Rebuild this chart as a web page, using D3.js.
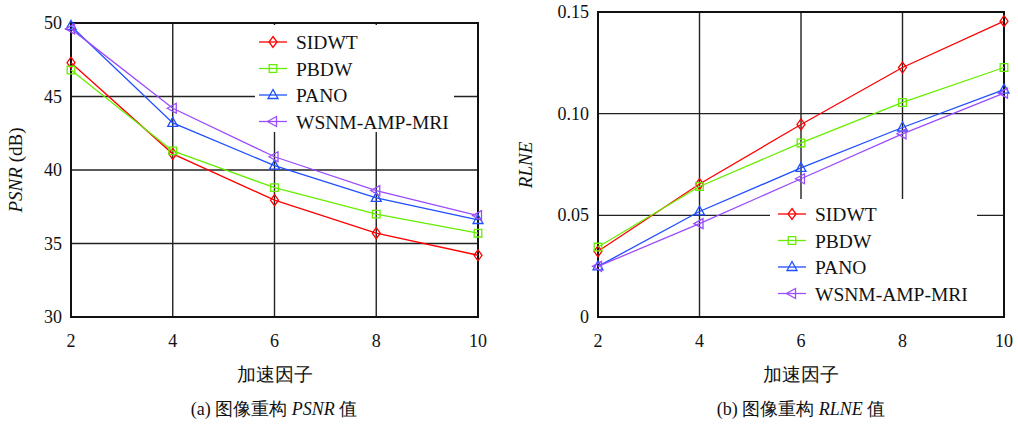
<html>
<head>
  <meta charset="UTF-8">
  <title>PSNR / RLNE</title>
  <script src="https://d3js.org/d3.v7.min.js"></script>
<style>
body { margin: 0; background: #fff; }
.grid line { stroke: #222; stroke-width: 1.4; }
.frame { fill: none; stroke: #111; stroke-width: 2; }
</style>
</head>
<body>
<script>

var width = 1018,
    height = 426;

var FONT = '"Liberation Serif"';

// data
var factors = [2, 4, 6, 8, 10];
var methods = ['SIDWT', 'PBDW', 'PANO', 'WSNM-AMP-MRI'];
var colors = ['#ff0000', '#66ee00', '#1f4fff', '#9a4cff'];
var shapes = ['diamond', 'square', 'triUp', 'triLeft'];

var psnrSIDWT = [47.3, 41.1, 37.95, 35.7, 34.2];
var psnrPBDW  = [46.8, 41.3, 38.8, 37.0, 35.7];
var psnrPANO  = [49.8, 43.2, 40.3, 38.1, 36.6];
var psnrWSNM  = [49.6, 44.2, 40.9, 38.6, 36.9];

var rlneSIDWT = [0.0323, 0.0654, 0.0947, 0.1227, 0.1455];
var rlnePBDW  = [0.0344, 0.0642, 0.0856, 0.1055, 0.1227];
var rlnePANO  = [0.0249, 0.0519, 0.0733, 0.0932, 0.1118];
var rlneWSNM  = [0.0249, 0.0459, 0.0680, 0.0901, 0.1101];

var psnrTicks = [30, 35, 40, 45, 50];
var rlneTicks = [0, 0.05, 0.10, 0.15];
var rlneTickLabels = ['0', '0.05', '0.10', '0.15'];

var svg = d3.select('body')
  .append('svg')
  .attr('width', width)
  .attr('height', height);

function label(g, size) {
  return g.append('text')
    .style('font-family', FONT)
    .style('font-size', size + 'px')
    .style('fill', '#111');
}

function marker(g, shape, x, y, color) {
  var p;
  if (shape == 'diamond') p = 'M0,-5.5L4,0L0,5.5L-4,0Z';
  else if (shape == 'square') p = 'M-3.8,-3.8H3.8V3.8H-3.8Z';
  else if (shape == 'triUp') p = 'M0,-5.5L5,3.5H-5Z';
  else p = 'M-5.5,0L3.5,-5V5Z';
  g.append('path')
    .attr('d', p)
    .attr('transform', 'translate(' + x + ',' + y + ')')
    .attr('fill', 'none')
    .attr('stroke', color)
    .attr('stroke-width', 1.3);
}

function panel(o) {
  var x = d3.scaleLinear().domain([2, 10]).range([o.left, o.right]);
  var y = d3.scaleLinear().domain(o.ydomain).range([o.bottom, o.top]);
  var g = svg.append('g');

  var grid = g.append('g').attr('class', 'grid');
  grid.selectAll('.vx').data(factors).enter().append('line')
    .attr('x1', d => x(d)).attr('x2', d => x(d))
    .attr('y1', o.top).attr('y2', o.bottom);
  grid.selectAll('.hy').data(o.ticks).enter().append('line')
    .attr('x1', o.left).attr('x2', o.right)
    .attr('y1', d => y(d)).attr('y2', d => y(d));

  // legend background hides the grid
  g.append('rect')
    .attr('x', o.legend.x0).attr('y', o.legend.y0)
    .attr('width', o.legend.x1 - o.legend.x0)
    .attr('height', o.legend.y1 - o.legend.y0)
    .attr('fill', '#fff');

  g.append('rect').attr('class', 'frame')
    .attr('x', o.left).attr('y', o.top)
    .attr('width', o.right - o.left).attr('height', o.bottom - o.top);

  var line = d3.line().x((d, i) => x(factors[i])).y(d => y(d));
  o.series.forEach(function(s, k) {
    g.append('path')
      .attr('d', line(s))
      .attr('fill', 'none')
      .attr('stroke', colors[k])
      .attr('stroke-width', 1.3);
    s.forEach(function(v, i) { marker(g, shapes[k], x(factors[i]), y(v), colors[k]); });
  });

  // tick labels
  factors.forEach(function(d) {
    label(g, 18).attr('x', x(d)).attr('y', o.bottom + 30)
      .attr('text-anchor', 'middle').text(d);
  });
  o.ticks.forEach(function(d, i) {
    label(g, 18).attr('x', o.left - 9).attr('y', y(d) + 6)
      .attr('text-anchor', 'end').text(o.tickLabels[i]);
  });

  // axis titles
  label(g, 19).attr('x', (o.left + o.right) / 2).attr('y', o.bottom + 64)
    .attr('text-anchor', 'middle').text('加速因子');

  var yl = label(g, 19)
    .attr('transform', 'translate(' + o.ylabelX + ',' + o.ylabelY + ') rotate(-90)')
    .attr('text-anchor', 'middle');
  yl.append('tspan').style('font-style', 'italic').text(o.ylabel);
  if (o.yunit) yl.append('tspan').text(o.yunit);

  var cap = label(g, 18).attr('x', o.capX).attr('y', 415)
    .attr('text-anchor', 'middle');
  cap.append('tspan').text(o.cap1);
  cap.append('tspan').style('font-style', 'italic').text(o.cap2);
  cap.append('tspan').text(' 值');

  // legend entries
  methods.forEach(function(m, k) {
    var ly = o.legend.row0 + k * 26.5;
    g.append('line')
      .attr('x1', o.legend.lx).attr('x2', o.legend.lx + 28)
      .attr('y1', ly).attr('y2', ly)
      .attr('stroke', colors[k]).attr('stroke-width', 1.3);
    marker(g, shapes[k], o.legend.lx + 14, ly, colors[k]);
    label(g, 19.5).attr('x', o.legend.lx + 37).attr('y', ly + 7).text(m);
  });
}

panel({
  left: 71, right: 478, top: 23, bottom: 317,
  ydomain: [30, 50], ticks: psnrTicks, tickLabels: psnrTicks.map(String),
  series: [psnrSIDWT, psnrPBDW, psnrPANO, psnrWSNM],
  ylabel: 'PSNR', yunit: ' (dB)', ylabelX: 22, ylabelY: 170,
  cap1: '(a) 图像重构 ', cap2: 'PSNR', capX: 274,
  legend: { x0: 255, x1: 454, y0: 25, y1: 132, lx: 259, row0: 42 }
});

panel({
  left: 598, right: 1004, top: 12, bottom: 317,
  ydomain: [0, 0.15], ticks: rlneTicks, tickLabels: rlneTickLabels,
  series: [rlneSIDWT, rlnePBDW, rlnePANO, rlneWSNM],
  ylabel: 'RLNE', yunit: null, ylabelX: 532, ylabelY: 165,
  cap1: '(b) 图像重构 ', cap2: 'RLNE', capX: 801,
  legend: { x0: 770, x1: 977, y0: 199, y1: 316, lx: 778, row0: 214 }
});

</script>
</body>
</html>
